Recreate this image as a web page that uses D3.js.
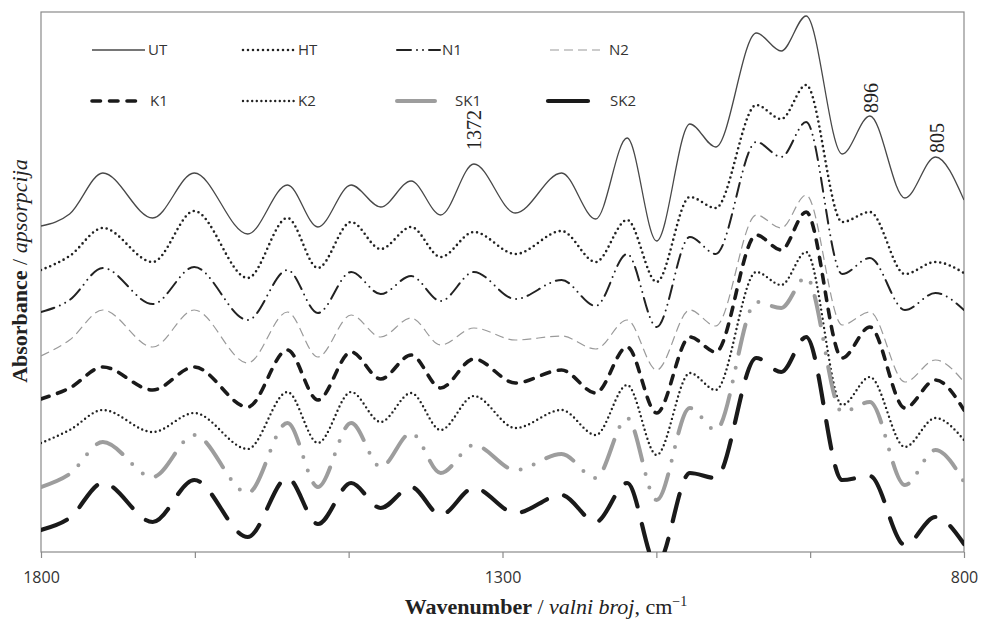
<!DOCTYPE html>
<html>
<head>
<meta charset="utf-8">
<script src="https://cdn.jsdelivr.net/npm/d3@7"></script>
<style>
  body { margin: 0; background: #fff; }
</style>
</head>
<body>
<div id="chart"></div>
<script>
// wavenumber points (cm-1) read at the peaks and troughs of the spectra
const wavenumbers = [1800, 1769, 1733, 1679, 1634, 1576, 1533, 1500, 1464, 1432, 1399, 1367, 1331, 1286,
                     1236, 1199, 1165, 1133, 1097, 1069, 1025, 998, 971, 932, 902, 864, 831, 800];

// absorbance (arbitrary units, curves are offset)
const ut  = [3.26, 3.38, 3.79, 3.34, 3.79, 3.18, 3.67, 3.25, 3.67, 3.45, 3.71, 3.37, 3.88, 3.39,
             3.79, 3.33, 4.14, 3.11, 4.28, 4.05, 5.19, 5.01, 5.36, 3.98, 4.36, 3.54, 3.95, 3.52];
const ht  = [2.82, 2.96, 3.24, 2.90, 3.41, 2.74, 3.34, 2.84, 3.30, 3.03, 3.25, 2.95, 3.20, 2.98,
             3.21, 2.90, 3.32, 2.70, 3.55, 3.44, 4.47, 4.33, 4.67, 3.30, 3.40, 2.78, 2.90, 2.79];
const n1  = [2.40, 2.52, 2.84, 2.48, 2.85, 2.32, 2.82, 2.39, 2.80, 2.58, 2.76, 2.51, 2.80, 2.53,
             2.72, 2.46, 2.98, 2.25, 3.15, 2.98, 4.10, 3.95, 4.30, 2.78, 2.94, 2.42, 2.59, 2.42];
const n2  = [1.96, 2.12, 2.42, 2.05, 2.42, 1.89, 2.40, 1.95, 2.37, 2.15, 2.34, 2.07, 2.24, 2.12,
             2.16, 2.03, 2.32, 1.82, 2.42, 2.26, 3.37, 3.24, 3.57, 2.27, 2.40, 1.70, 1.92, 1.70];
const k1  = [1.53, 1.64, 1.85, 1.62, 1.85, 1.45, 2.02, 1.52, 2.00, 1.73, 1.97, 1.64, 1.93, 1.69,
             1.82, 1.59, 2.05, 1.39, 2.15, 2.00, 3.17, 3.02, 3.40, 1.94, 2.25, 1.44, 1.72, 1.42];
const k2  = [1.09, 1.22, 1.42, 1.20, 1.39, 1.03, 1.60, 1.09, 1.60, 1.30, 1.59, 1.22, 1.56, 1.24,
             1.42, 1.17, 1.67, 0.97, 1.79, 1.62, 2.80, 2.67, 3.00, 1.47, 1.75, 1.05, 1.34, 1.12];
const sk1 = [0.65, 0.78, 1.10, 0.75, 1.17, 0.59, 1.29, 0.65, 1.29, 0.85, 1.19, 0.79, 1.07, 0.82,
             0.98, 0.74, 1.34, 0.52, 1.44, 1.22, 2.50, 2.44, 2.75, 1.40, 1.50, 0.67, 1.02, 0.70];
const sk2 = [0.22, 0.34, 0.69, 0.30, 0.72, 0.15, 0.74, 0.28, 0.69, 0.44, 0.65, 0.37, 0.64, 0.39,
             0.57, 0.30, 0.69, -0.13, 0.79, 0.74, 1.94, 1.80, 2.15, 0.72, 0.76, 0.07, 0.35, 0.08];

const seriesNames = ["UT", "HT", "N1", "N2", "K1", "K2", "SK1", "SK2"];
const seriesValues = [ut, ht, n1, n2, k1, k2, sk1, sk2];

const tickValues = [1800, 1633.3, 1466.7, 1300, 1133.3, 966.7, 800];
const tickLabels = ["1800", "", "", "1300", "", "", "800"];

// peak labels: text and the wavenumber/absorbance where it sits
const peakLabels = ["1372", "896", "805"];
const peakX = [1331, 901, 829];
const peakY = [4.02, 4.39, 3.99];

// line styles of each series
const styles = {
  UT:  { color: "#484848", width: 1.3, dash: null, cap: "butt" },
  HT:  { color: "#222", width: 2.6, dash: "0 5", cap: "round" },
  N1:  { color: "#222", width: 2, dash: "14 6 0 6 0 6", cap: "round" },
  N2:  { color: "#9a9a9a", width: 1.2, dash: "9 5", cap: "butt" },
  K1:  { color: "#1a1a1a", width: 3.6, dash: "8.5 9", cap: "round" },
  K2:  { color: "#222", width: 2.4, dash: "0 4.6", cap: "round" },
  SK1: { color: "#9d9d9d", width: 4, dash: "30 14 0 14 0 14", cap: "round" },
  SK2: { color: "#1a1a1a", width: 4.2, dash: "28 18", cap: "round" }
};

const W = 981, H = 622;
const margin = { top: 12, right: 17, bottom: 70, left: 41 };

const svg = d3.select("#chart").append("svg")
  .attr("width", W)
  .attr("height", H);

const x = d3.scaleLinear().domain([1800, 800]).range([margin.left, W - margin.right]);
const y = d3.scaleLinear().domain([0, 5.4]).range([H - margin.bottom, margin.top]);

svg.append("clipPath").attr("id", "plot")
  .append("rect")
  .attr("x", margin.left).attr("y", margin.top)
  .attr("width", W - margin.left - margin.right)
  .attr("height", H - margin.top - margin.bottom);

// frame
svg.append("rect")
  .attr("x", margin.left).attr("y", margin.top)
  .attr("width", W - margin.left - margin.right)
  .attr("height", H - margin.top - margin.bottom)
  .attr("fill", "none")
  .attr("stroke", "#8a8a8a")
  .attr("stroke-width", 1.2);

// x axis
const xAxis = d3.axisBottom(x)
  .tickValues(tickValues)
  .tickSize(6)
  .tickPadding(14)
  .tickFormat((d, i) => tickLabels[i]);

const gx = svg.append("g")
  .attr("transform", "translate(0," + (H - margin.bottom) + ")")
  .call(xAxis);
gx.select(".domain").remove();
gx.selectAll(".tick line").attr("stroke", "#8a8a8a").attr("stroke-width", 1.2);
gx.selectAll(".tick text")
  .attr("fill", "#333")
  .style("font-family", "'Open Sans', sans-serif")
  .style("font-size", "16px");

// spectra
const line = d3.line()
  .x((d, i) => x(wavenumbers[i]))
  .y(d => y(d))
  .curve(d3.curveMonotoneX);

const lines = svg.append("g").attr("clip-path", "url(#plot)");
seriesNames.forEach((name, k) => {
  const s = styles[name];
  lines.append("path")
    .datum(seriesValues[k])
    .attr("d", line)
    .attr("fill", "none")
    .attr("stroke", s.color)
    .attr("stroke-width", s.width)
    .attr("stroke-dasharray", s.dash)
    .attr("stroke-linecap", s.cap);
});

// peak labels
peakLabels.forEach((t, i) => {
  svg.append("text")
    .attr("transform", "translate(" + x(peakX[i]) + "," + y(peakY[i]) + ") rotate(-90)")
    .attr("dy", "0.35em")
    .attr("fill", "#222")
    .style("font-family", "'Liberation Serif', 'DejaVu Serif', serif")
    .style("font-size", "20px")
    .text(t);
});

// legend
const legendX = [92, 243, 397, 550];
const legendRowY = [50, 101];
const legendLen = [53, 52, 43, 50, 50, 52, 38, 40];
const legendTextPad = [3, 3, 2, 9, 8, 3, 20, 22];

seriesNames.forEach((name, k) => {
  const s = styles[name];
  const col = k % 4, row = Math.floor(k / 4);
  const lx = legendX[col] + (name === "SK2" ? -2 : 0);
  const ly = legendRowY[row];
  svg.append("line")
    .attr("x1", lx).attr("x2", lx + legendLen[k])
    .attr("y1", ly).attr("y2", ly)
    .attr("stroke", s.color)
    .attr("stroke-width", s.width)
    .attr("stroke-dasharray", name === "SK1" || name === "SK2" ? null : s.dash)
    .attr("stroke-linecap", s.cap);
  svg.append("text")
    .attr("x", lx + legendLen[k] + legendTextPad[k])
    .attr("y", ly)
    .attr("dy", "0.35em")
    .attr("fill", "#333")
    .style("font-family", "'Open Sans', sans-serif")
    .style("font-size", "15px")
    .text(name);
});

// axis titles
const xt = svg.append("text")
  .attr("x", 546)
  .attr("y", 614)
  .attr("text-anchor", "middle")
  .attr("fill", "#222")
  .style("font-family", "'Liberation Serif', serif")
  .style("font-size", "22px");
xt.append("tspan").attr("font-weight", "bold").text("Wavenumber");
xt.append("tspan").text(" / ");
xt.append("tspan").attr("font-style", "italic").text("valni broj");
xt.append("tspan").text(", cm");
xt.append("tspan").attr("dy", "-8").style("font-size", "14px").text("\u22121");

const yt = svg.append("text")
  .attr("transform", "translate(27,271) rotate(-90)")
  .attr("text-anchor", "middle")
  .attr("fill", "#222")
  .style("font-family", "'Liberation Serif', serif")
  .style("font-size", "22px");
yt.append("tspan").attr("font-weight", "bold").text("Absorbance");
yt.append("tspan").text(" / ");
yt.append("tspan").attr("font-style", "italic").text("apsorpcija");
</script>
</body>
</html>
